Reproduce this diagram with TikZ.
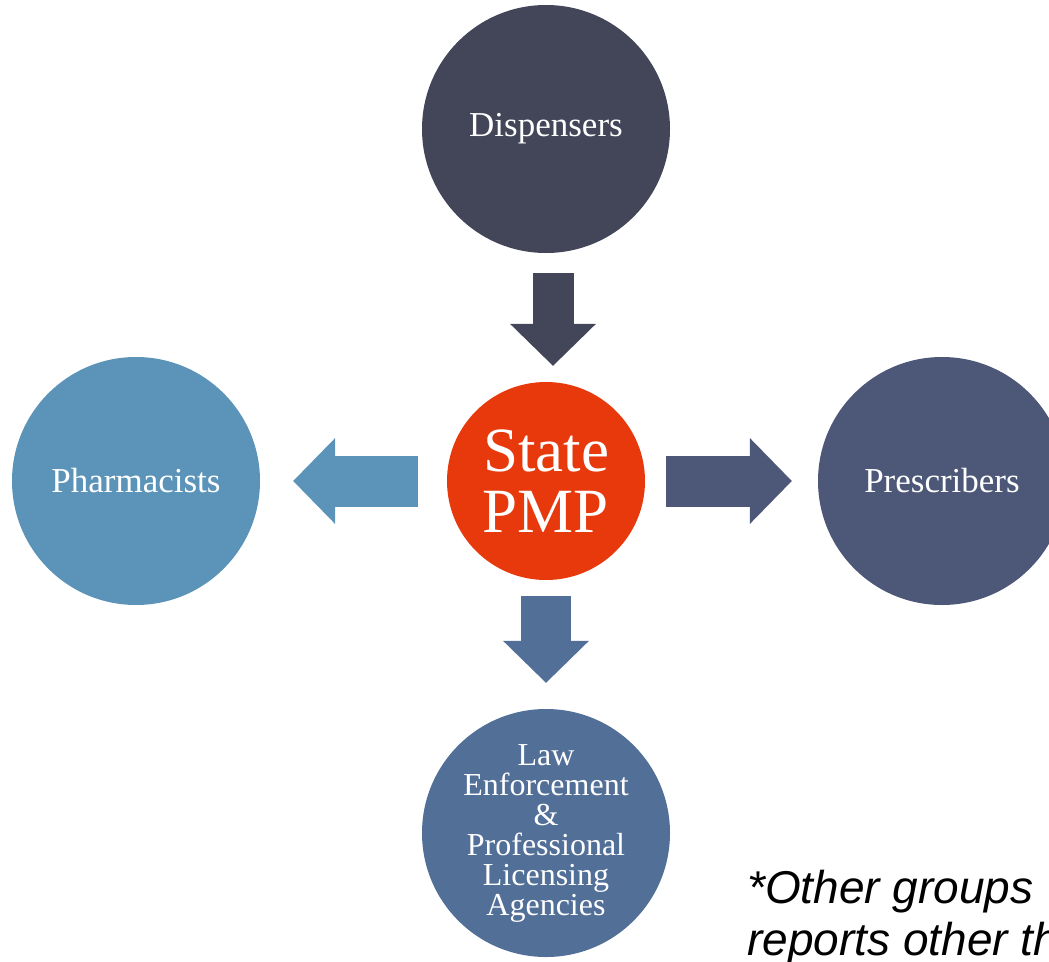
\documentclass[tikz,border=0pt]{standalone}
\usepackage{fontspec}
\setmainfont{Liberation Serif}
\setsansfont{Liberation Sans}
\usetikzlibrary{calc,arrows.meta}
\definecolor{dispcol}{HTML}{434558}
\definecolor{pharmcol}{HTML}{5B94B8}
\definecolor{presccol}{HTML}{4D5878}
\definecolor{lawcol}{HTML}{526F98}
\definecolor{pmpcol}{HTML}{E8390D}
\begin{document}
\begin{tikzpicture}[x=1pt,y=-1pt,
  hub/.style={circle,minimum size=248pt,inner sep=0pt,text=white,align=center,
    font=\fontsize{35}{38}\selectfont},
  flow/.style={line width=#1,-{Triangle[length=42pt,width=86pt,line width=0pt]}},
  note/.style={anchor=base west,inner sep=0pt,font=\sffamily\itshape\fontsize{46}{52}\selectfont}]
  \useasboundingbox (0,0) rectangle (1049,961);
  % circles
  \node[hub,fill=dispcol] (disp) at (546,129) {Dispensers};
  \node[hub,fill=pmpcol,minimum size=198pt,font=\fontsize{63}{61}\selectfont] (pmp) at (546,481) {State\\PMP};
  \node[hub,fill=pharmcol] (pharm) at (136,481) {Pharmacists};
  \node[hub,fill=presccol] (presc) at (942,481) {Prescribers};
  \node[hub,fill=lawcol,font=\fontsize{32}{30}\selectfont] (law) at (546,833)
    {Law\\Enforcement\\\&\\Professional\\Licensing\\Agencies};
  % block arrows
  \draw[flow=41pt,dispcol] ($(disp.south)+(7,20)$) coordinate (dIn) -- ($(pmp.north)+(7,-16)$) coordinate (dOut);
  \draw[flow=51pt,pharmcol] ($(pmp.west)+(-29,0)$) coordinate (phIn) -- ($(pharm.east)+(33,0)$) coordinate (phOut);
  \draw[flow=51pt,presccol] ($(pmp.east)+(21,0)$) coordinate (prIn) -- ($(presc.west)+(-26,0)$) coordinate (prOut);
  \draw[flow=50pt,lawcol] ($(pmp.south)+(0,16)$) coordinate (lIn) -- ($(law.north)+(0,-26)$) coordinate (lOut);
  % footnote
  \node[note] (note1) at (747,903) {*Other groups};
  \node[note] (note2) at ($(note1.base west)+(0,52)$) {reports other th};
\end{tikzpicture}
\end{document}
